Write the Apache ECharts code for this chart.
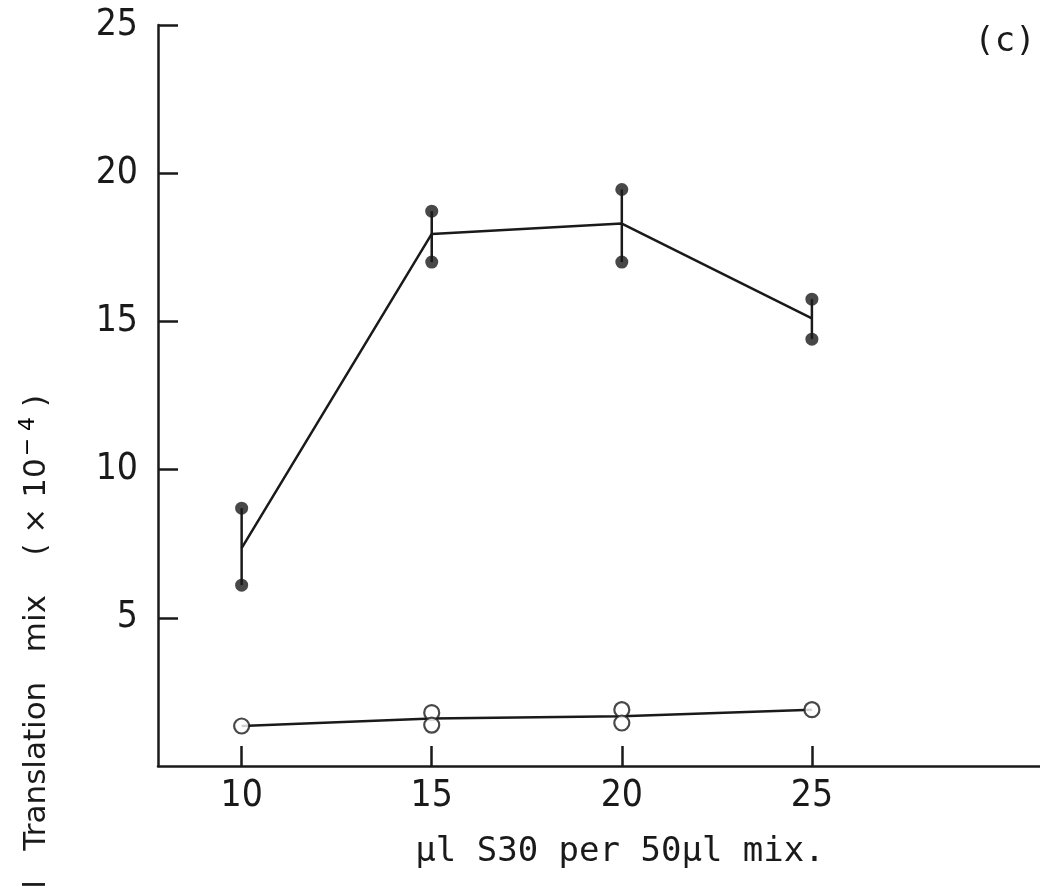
<!DOCTYPE html>
<html><head><meta charset="utf-8">
<script src="https://cdn.jsdelivr.net/npm/echarts@6/dist/echarts.min.js"></script>
<style>html,body{margin:0;padding:0;background:#fff}#c{width:1040px;height:887px}</style>
</head><body><div id="c"></div>
<script>
const xValues = [10, 15, 20, 25];
const filledMean = [7.35, 17.95, 18.3, 15.1];
const filledHigh = [8.7, 18.72, 19.45, 15.75];
const filledLow = [6.1, 17.0, 17.0, 14.4];
const openMean = [1.35, 1.6, 1.68, 1.9];
const openReplicates = [[1.35], [1.8, 1.38], [1.9, 1.45], [1.9]];
const xTicks = [10, 15, 20, 25];
const yTicks = [5, 10, 15, 20, 25];

const ink = '#1a1a1a';
const numFont = "'Liberation Sans Narrow','DejaVu Sans Condensed',sans-serif";

const filledLine = xValues.map((x, i) => [x, filledMean[i]]);
const filledPts = [];
xValues.forEach((x, i) => { filledPts.push([x, filledHigh[i]]); filledPts.push([x, filledLow[i]]); });
const bars = xValues.map((x, i) => [x, filledLow[i], filledHigh[i]]);
const openLine = xValues.map((x, i) => [x, openMean[i]]);
const openPts = [];
xValues.forEach((x, i) => openReplicates[i].forEach(v => openPts.push([x, v])));

const chart = echarts.init(document.getElementById('c'));
chart.setOption({
  backgroundColor: '#fff',
  animation: false,
  grid: { left: 158, right: 0, top: 25, bottom: 121 },
  xAxis: {
    type: 'value', min: 7.8, max: 31,
    axisLine: { lineStyle: { color: ink, width: 2.5 } },
    axisTick: { inside: true, length: 20, customValues: xTicks, lineStyle: { color: ink, width: 2.5 } },
    axisLabel: { customValues: xTicks, margin: 12, fontSize: 37, fontFamily: numFont, color: ink },
    splitLine: { show: false }
  },
  yAxis: {
    type: 'value', min: 0, max: 25,
    axisLine: { show: true, lineStyle: { color: ink, width: 2.5 } },
    axisTick: { show: true, inside: true, length: 20, customValues: yTicks, lineStyle: { color: ink, width: 2.5 } },
    axisLabel: { customValues: yTicks, margin: 20, fontSize: 37, fontFamily: numFont, color: ink },
    splitLine: { show: false }
  },
  graphic: [
    { type: 'text', x: 37, y: 395, rotation: Math.PI / 2,
      style: {
        text: '{n|l   Translation   mix    ( × 10}{s|− 4}{n| )}',
        rich: {
          n: { font: "31px 'DejaVu Sans'", fill: ink, fontSize: 31, fontFamily: 'DejaVu Sans', color: ink },
          s: { fontSize: 22, fontFamily: 'DejaVu Sans', color: ink, padding: [0, 0, 18, 2] }
        },
        textAlign: 'right', textVerticalAlign: 'middle' } },
    { type: 'text', x: 620, y: 852,
      style: { text: 'µl S30 per 50µl mix.', font: "34px 'DejaVu Sans Mono'", fill: ink, textAlign: 'center', textVerticalAlign: 'middle' } },
    { type: 'text', x: 1005, y: 42,
      style: { text: '(c)', font: "34px 'DejaVu Sans Mono'", fill: ink, textAlign: 'center', textVerticalAlign: 'middle' } }
  ],
  series: [
    { type: 'line', data: filledLine, showSymbol: false, symbol: 'none',
      lineStyle: { color: ink, width: 2.5 }, z: 2 },
    { type: 'custom', data: bars, z: 3,
      renderItem: function (params, api) {
        const p1 = api.coord([api.value(0), api.value(1)]);
        const p2 = api.coord([api.value(0), api.value(2)]);
        return { type: 'line', shape: { x1: p1[0], y1: p1[1], x2: p2[0], y2: p2[1] },
                 style: { stroke: ink, lineWidth: 2.5 } };
      } },
    { type: 'scatter', data: filledPts, symbol: 'circle', symbolSize: 13,
      itemStyle: { color: ink }, z: 4 },
    { type: 'line', data: openLine, showSymbol: false, symbol: 'none',
      lineStyle: { color: ink, width: 2.5 }, z: 2 },
    { type: 'scatter', data: openPts, symbol: 'circle', symbolSize: 15,
      itemStyle: { color: '#fff', borderColor: ink, borderWidth: 2.2 }, z: 4 }
  ]
});
</script></body></html>
